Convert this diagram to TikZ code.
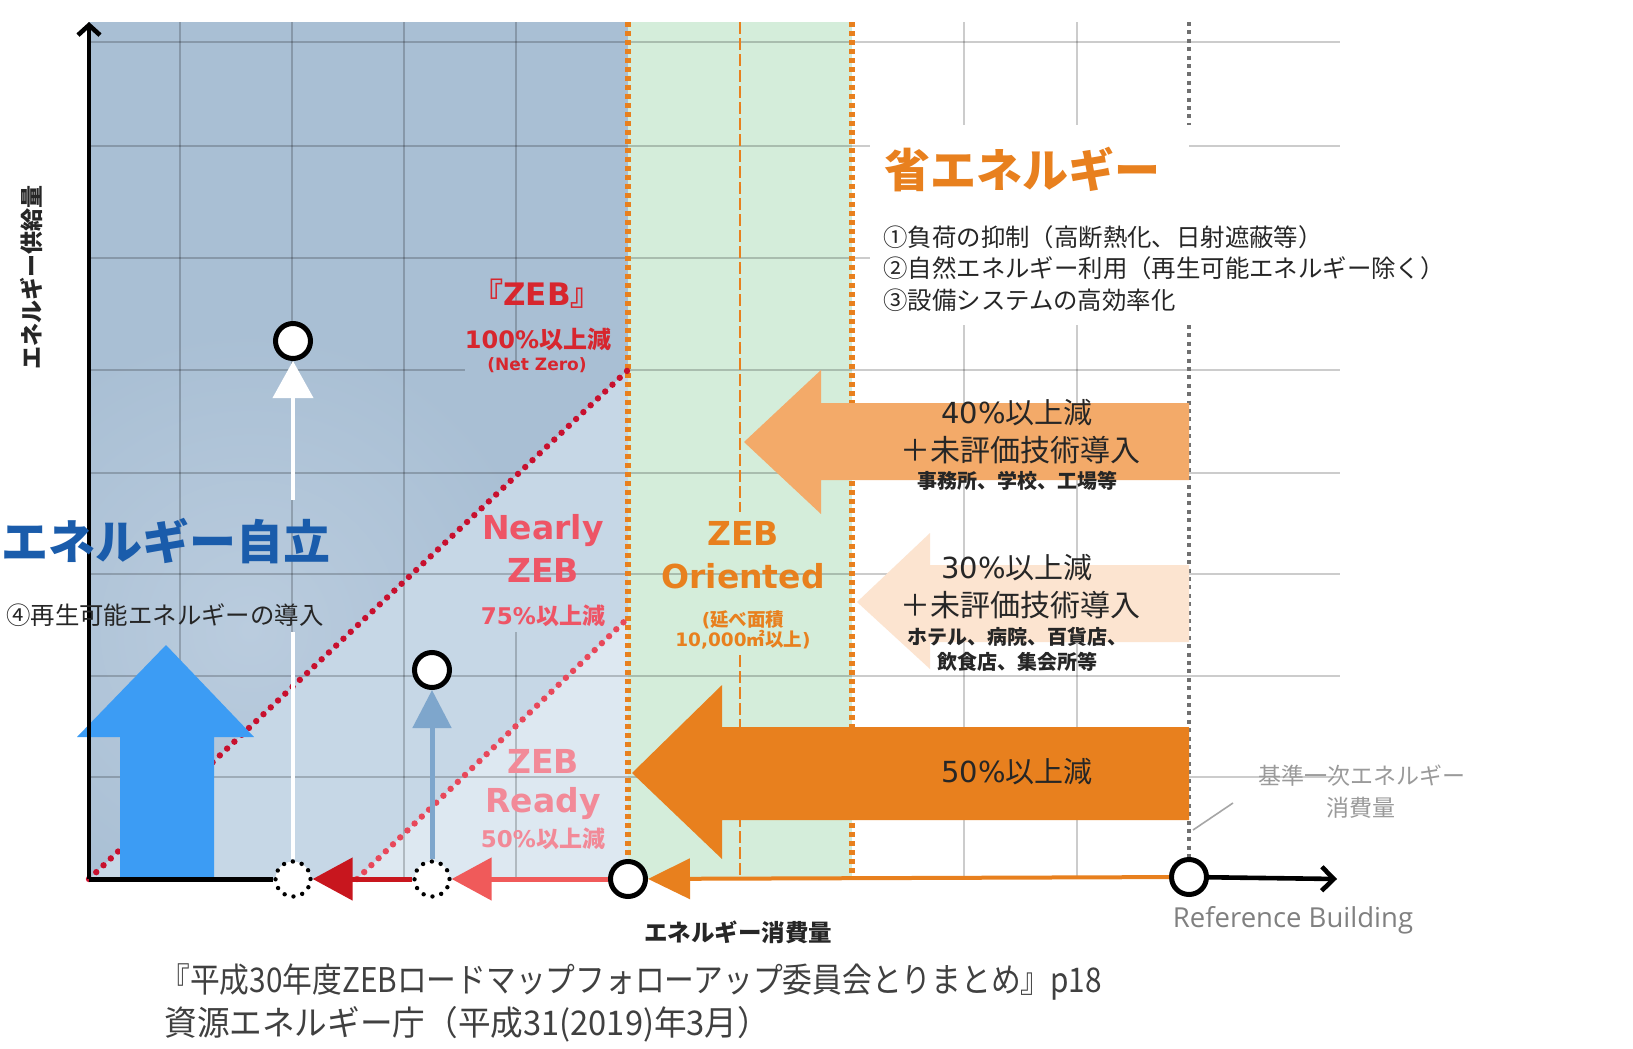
\documentclass[tikz,border=0pt]{standalone}
\usepackage{fontspec}
\setmainfont{DejaVu Sans}
\newfontfamily\jp{Noto Sans CJK JP}
\newfontfamily\jpc[FakeStretch=0.875]{Noto Sans CJK JP}
\newfontfamily\jpcw[FakeStretch=0.96]{Noto Sans CJK JP}
\newfontfamily\lat{DejaVu Sans}
\newfontfamily\opn{Open Sans}
\usetikzlibrary{arrows.meta}
\newcommand\FS[1]{\fontsize{#1}{#1}\selectfont}
\definecolor{cBgDark}{HTML}{A9BFD4}
\definecolor{cBgGlow}{HTML}{BACCDE}
\definecolor{cBgMid}{HTML}{C6D7E6}
\definecolor{cBgLight}{HTML}{DDE8F1}
\definecolor{cGreen}{HTML}{D4EDDA}
\definecolor{cOr}{HTML}{E8801E}
\definecolor{cOr40}{HTML}{F3AA69}
\definecolor{cOr30}{HTML}{FCE4D0}
\definecolor{cGd}{HTML}{707070}
\definecolor{cDiagA}{HTML}{C8102E}
\definecolor{cDiagB}{HTML}{E8485A}
\definecolor{cBigBlue}{HTML}{3C9CF4}
\definecolor{cSmBlue}{HTML}{7EA6CC}
\definecolor{cDarkRed}{HTML}{C8161E}
\definecolor{cSalmon}{HTML}{F05A5A}
\definecolor{cZebRed}{HTML}{D7262E}
\definecolor{cNearly}{HTML}{EE5566}
\definecolor{cReady}{HTML}{F28A98}
\definecolor{cBlueTxt}{HTML}{1A5CAB}
\definecolor{cTxt}{HTML}{262626}
\definecolor{cGrayTxt}{HTML}{9A9A9A}
\definecolor{cCap}{HTML}{404040}
\tikzset{
  gridln/.style={draw=black, draw opacity=0.2, line width=1pt},
  odot/.style={draw=cOr, line width=2.6pt, dash pattern=on 2.3pt off 2.2pt},
  odash/.style={draw=cOr, line width=1.1pt, dash pattern=on 6pt off 2pt},
  gdash/.style={draw=cGd, line width=2.2pt, dash pattern=on 2pt off 2.2pt},
  diagA/.style={draw=cDiagA, line width=3.2pt, line cap=round, dash pattern=on 0pt off 5pt},
  diagB/.style={draw=cDiagB, line width=3.2pt, line cap=round, dash pattern=on 0pt off 5pt},
  ring/.style={circle, draw=black, fill=white, line width=2.5pt, minimum size=17.5pt, inner sep=0pt},
  dring/.style={circle, draw=black, fill=white, line width=2.2pt, line cap=round, dash pattern=on 0pt off 4.6pt, minimum size=17.5pt, inner sep=0pt},
  lbl/.style={inner sep=0pt},
}
\begin{document}
\begin{tikzpicture}[x=0.5pt,y=-0.5pt]
\useasboundingbox (0,0) rectangle (1633,1049);
\fill[white] (0,0) rectangle (1633,1049);
% backgrounds
\fill[cBgDark] (89,22) rectangle (628,879);
\begin{scope}
  \clip (89,22) -- (628,22) -- (628,370) -- (89,879) -- cycle;
  \shade[inner color=cBgGlow, outer color=cBgDark] (250,630) circle[radius=300];
\end{scope}
\fill[cBgMid] (89,879) -- (628,370) -- (628,879) -- cycle;
\fill[cBgLight] (357,879) -- (628,618) -- (628,879) -- cycle;
\fill[cGreen] (628,22) rectangle (852,879);
% grid
\foreach \y in {42,146,258,473,574,676,777} \draw[gridln] (89,\y) -- (1340,\y);
\draw[gridln] (89,370) -- (465,370);
\draw[gridln] (628,370) -- (1340,370);
\foreach \x in {180,292,404,964,1077} \draw[gridln] (\x,22) -- (\x,879);
\draw[gridln] (516,22) -- (516,367);
\draw[gridln] (516,632) -- (516,879);
% blank behind text block
\fill[white] (870,125) rectangle (1189,325);
\fill[white] (1189,200) rectangle (1345,325);
% vertical boundaries
\draw[odot] (628,22) -- (628,879);
\draw[odot] (852,22) -- (852,879);
\draw[odash] (740,22) -- (740,512);
\draw[odash] (740,655) -- (740,879);
\draw[gdash] (1189,22) -- (1189,125);
\draw[gdash] (1189,325) -- (1189,858);
% diagonals
\draw[diagA] (89,879) -- (628,370);
\draw[diagB] (357,879) -- (628,618);
% block arrows
\fill[cOr40] (1189,403) -- (821,403) -- (821,370) -- (744,442) -- (821,514) -- (821,480) -- (1189,480) -- cycle;
\fill[cOr30] (1189,565) -- (930,565) -- (930,533) -- (857,602) -- (930,669) -- (930,642) -- (1189,642) -- cycle;
\fill[cOr] (1189,727) -- (722,727) -- (722,685) -- (632,773) -- (722,859) -- (722,820) -- (1189,820) -- cycle;
% big blue arrow
\fill[cBigBlue] (120,879) -- (120,737) -- (77,737) -- (166,645) -- (254,737) -- (214,737) -- (214,879) -- cycle;
% axes and points
\coordinate (O) at (89,879);
\coordinate (ytop) at (89,22);
\coordinate (xend) at (1337,879);
\coordinate (w1) at (293,500);
\coordinate (w2) at (293,632);
\coordinate (ldA) at (1193,830);
\coordinate (ldB) at (1233,803);
\node[dring] (c1) at (293,879) {};
\node[dring] (c2) at (432,879) {};
\node[ring] (c3) at (628,879) {};
\node[ring] (c4) at (1189,877) {};
\node[ring] (u1) at (293,341) {};
\node[ring] (u2) at (432,670) {};
\draw[line width=2.3pt, -{Straight Barb[length=5pt,width=11pt]}] (O) -- (ytop);
\draw[line width=2.5pt] (O) -- (c1);
\draw[cDarkRed, line width=2.5pt, -{Triangle[length=20pt,width=21pt]}] (c2) -- (c1);
\draw[cSalmon, line width=2.5pt, -{Triangle[length=20pt,width=21pt]}] (c3) -- (c2);
\draw[cOr, line width=2pt, -{Triangle[length=21pt,width=20pt]}] (c4) -- (c3);
\draw[line width=2.3pt, -{Straight Barb[length=6pt,width=12pt]}] (c4) -- (xend);
\draw[cSmBlue, line width=2.5pt, -{Triangle[length=19pt,width=19pt]}] (c2) -- (u2);
\draw[white, line width=2pt] (c1) -- (w2);
\draw[white, line width=2pt, -{Triangle[length=18.5pt,width=20pt]}] (w1) -- (u1);
\draw[gray!70, line width=0.8pt] (ldA) -- (ldB);
% texts
\node[lbl, rotate=90, text=cTxt, font=\jp\bfseries\FS{11.5}] (ylab) at (31,277) {エネルギー供給量};
\node[lbl, text=cBlueTxt, font=\jp\bfseries\FS{23.5}] (tJiritsu) at (166,541) {エネルギー自立};
\node[lbl, text=cTxt, font=\jp\FS{12.2}] (tSai) at (165,615) {④再生可能エネルギーの導入};
\node[lbl, text=cZebRed, font=\bfseries\FS{15.5}] (tZeb) at (537,294) {{\jp 『}{\lat ZEB}{\jp 』}};
\node[lbl, text=cZebRed, font=\bfseries\FS{12}] (tZeb2) at (538,339) {{\lat 100\%}{\jp 以上減}};
\node[lbl, text=cZebRed, font=\lat\bfseries\FS{8.5}] (tZeb3) at (537,365) {(Net Zero)};
\node[lbl, text=cNearly, font=\lat\bfseries\FS{16.5}] (tNear1) at (543,531) {Nearly};
\node[lbl, text=cNearly, font=\lat\bfseries\FS{16.5}] (tNear2) at (543,570) {ZEB};
\node[lbl, text=cNearly, font=\bfseries\FS{11.5}] (tNear3) at (543,616) {{\lat 75\%}{\jp 以上減}};
\node[lbl, text=cReady, font=\lat\bfseries\FS{16.5}] (tRdy1) at (543,761) {ZEB};
\node[lbl, text=cReady, font=\lat\bfseries\FS{16.5}] (tRdy2) at (543,804) {Ready};
\node[lbl, text=cReady, font=\bfseries\FS{11.5}] (tRdy3) at (543,839) {{\lat 50\%}{\jp 以上減}};
\node[lbl, text=cOr, font=\lat\bfseries\FS{16.5}] (tOri1) at (743,533) {ZEB};
\node[lbl, text=cOr, font=\lat\bfseries\FS{16.5}] (tOri2) at (743,576) {Oriented};
\node[lbl, text=cOr, font=\bfseries\FS{9.25}] (tOri3) at (743,620) {{\lat (}{\jp 延べ面積}};
\node[lbl, text=cOr, font=\bfseries\FS{9.25}] (tOri4) at (743,640) {{\lat 10,000}{\jp ㎡以上}{\lat )}};
\node[lbl, text=cOr, font=\jp\bfseries\FS{23}] (tSho) at (1022,170) {省エネルギー};
\node[lbl, anchor=west, text=cTxt, font=\jp\FS{12.2}] (tL1) at (883,237) {①負荷の抑制（高断熱化、日射遮蔽等）};
\node[lbl, anchor=west, text=cTxt, font=\jp\FS{12.2}] (tL2) at (883,268) {②自然エネルギー利用（再生可能エネルギー除く）};
\node[lbl, anchor=west, text=cTxt, font=\jp\FS{12.2}] (tL3) at (883,300) {③設備システムの高効率化};
\node[lbl, text=cTxt, font=\FS{14.5}] (t40a) at (1017,413) {{\lat 40\%}{\jp 以上減}};
\node[lbl, text=cTxt, font=\jp\FS{15}] (t40b) at (1020,450) {＋未評価技術導入};
\node[lbl, text=cTxt, font=\jp\bfseries\FS{10}] (t40c) at (1017,481) {事務所、学校、工場等};
\node[lbl, text=cTxt, font=\FS{14.5}] (t30a) at (1017,568) {{\lat 30\%}{\jp 以上減}};
\node[lbl, text=cTxt, font=\jp\FS{15}] (t30b) at (1020,605) {＋未評価技術導入};
\node[lbl, text=cTxt, font=\jp\bfseries\FS{10}] (t30c) at (1017,637) {ホテル、病院、百貨店、};
\node[lbl, text=cTxt, font=\jp\bfseries\FS{10}] (t30d) at (1017,662) {飲食店、集会所等};
\node[lbl, text=cTxt, font=\FS{14.5}] (t50) at (1017,772) {{\lat 50\%}{\jp 以上減}};
\node[lbl, text=cGrayTxt, font=\jp\FS{11.5}] (tKijun1) at (1362,776) {基準一次エネルギー};
\node[lbl, text=cGrayTxt, font=\jp\FS{11.5}] (tKijun2) at (1361,808) {消費量};
\node[lbl, text=gray, font=\opn\FS{13.75}] (tRef) at (1293,920) {Reference Building};
\node[lbl, text=cTxt, font=\jp\bfseries\FS{11.75}] (xlab) at (738,932) {エネルギー消費量};
\node[lbl, anchor=west, text=cCap, font=\jpc\FS{17}] (cap1) at (160,982) {『平成30年度ZEBロードマップフォローアップ委員会とりまとめ』p18};
\node[lbl, anchor=west, text=cCap, font=\jpcw\FS{17}] (cap2) at (164,1024) {資源エネルギー庁（平成31(2019)年3月）};
\end{tikzpicture}
\end{document}
